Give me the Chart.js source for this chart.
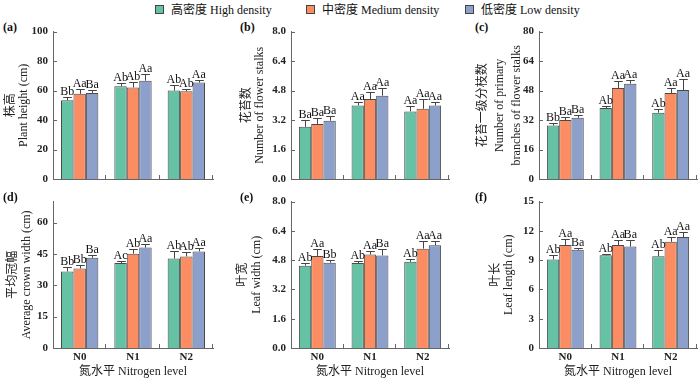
<!DOCTYPE html>
<html>
<head>
<meta charset="utf-8">
<script src="https://cdn.jsdelivr.net/npm/chart.js@4.4.1/dist/chart.umd.min.js"></script>
<style>
  html, body { margin: 0; padding: 0; background: #fff; }
  body { width: 700px; height: 385px; position: relative; overflow: hidden;
         font-family: 'Liberation Serif', 'Times New Roman', 'Noto Sans CJK SC', serif; color: #111; }
  canvas { position: absolute; }
  .tag { position: absolute; font-size: 12px; font-weight: bold; line-height: 14px; }
  .key { position: absolute; top: 3px; font-size: 12px; line-height: 14px; white-space: nowrap; }
  .key i { display: inline-block; width: 7px; height: 7px; border: 1px solid #444;
           margin-right: 7px; vertical-align: 0px; }
</style>
</head>
<body>
<script>
// Shared categories and series
const groups = ['N0', 'N1', 'N2'];
const seriesNames = ['高密度 High density', '中密度 Medium density', '低密度 Low density'];
const seriesColors = ['#66c2a5', '#fc8d62', '#8da0cb'];

// Each table: rows = high, medium, low density; columns = N0, N1, N2
// (a) plant height
const heightMean = [[53.4, 63.0, 60.0], [57.8, 62.1, 59.5], [58.4, 66.7, 65.4]];
const heightErr  = [[2.2, 1.8, 3.5], [3.2, 3.5, 1.8], [1.8, 4.2, 1.8]];
const heightSig  = [['Bb', 'Ab', 'Ab'], ['Aa', 'Ab', 'Ab'], ['Ba', 'Aa', 'Aa']];

// (b) number of flower stalks
const stalkMean = [[2.83, 3.99, 3.67], [2.99, 4.34, 3.81], [3.16, 4.52, 3.99]];
const stalkErr  = [[0.37, 0.21, 0.27], [0.30, 0.39, 0.53], [0.25, 0.44, 0.21]];
const stalkSig  = [['Ba', 'Aa', 'Aa'], ['Ba', 'Aa', 'Aa'], ['Ba', 'Aa', 'Aa']];

// (c) primary branches of flower stalks
const branchMean = [[29.0, 38.5, 36.0], [32.0, 49.4, 46.7], [33.2, 51.7, 48.3]];
const branchErr  = [[1.6, 1.0, 1.8], [1.4, 3.7, 2.7], [1.4, 1.9, 5.8]];
const branchSig  = [['Bb', 'Ab', 'Ab'], ['Ba', 'Aa', 'Aa'], ['Ba', 'Aa', 'Aa']];

// (d) average crown width
const crownMean = [[36.6, 40.6, 42.8], [38.0, 45.1, 43.8], [43.1, 48.0, 46.2]];
const crownErr  = [[1.9, 0.9, 3.4], [1.7, 2.1, 1.9], [1.2, 1.5, 1.8]];
const crownSig  = [['Bb', 'Ac', 'Ab'], ['Bb', 'Ab', 'Ab'], ['Ba', 'Aa', 'Aa']];

// (e) leaf width
const widthMean = [[4.50, 4.64, 4.71], [5.03, 5.11, 5.43], [4.66, 5.06, 5.61]];
const widthErr  = [[0.14, 0.11, 0.18], [0.37, 0.20, 0.42], [0.17, 0.34, 0.24]];
const widthSig  = [['Ab', 'Ab', 'Ab'], ['Aa', 'Aa', 'Aa'], ['Bb', 'Ba', 'Aa']];

// (f) leaf length
const lengthMean = [[9.07, 9.50, 9.40], [10.55, 10.55, 10.88], [10.06, 10.39, 11.37]];
const lengthErr  = [[0.43, 0.16, 0.69], [0.59, 0.50, 0.46], [0.23, 0.66, 0.50]];
const lengthSig  = [['Ab', 'Ab', 'Ab'], ['Aa', 'Aa', 'Aa'], ['Ba', 'Ba', 'Aa']];

const FONT = "'Liberation Serif', 'Times New Roman', 'Noto Sans CJK SC', serif";
const INK = '#222';
const AXIS = '#666';

const panels = [
  { tag: '(a)', mean: heightMean, err: heightErr, sig: heightSig, max: 100, step: 20, dec: 0,
    title: ['株高', 'Plant height (cm)'], left: 0, yw: 53, w: 220, pr: 7, tpad: 5, lh: 1.03, row: 0 },
  { tag: '(b)', mean: stalkMean, err: stalkErr, sig: stalkSig, max: 8, step: 1.6, dec: 1,
    title: ['花苔数', 'Number of flower stalks'], left: 230, yw: 61, w: 226, pr: 7, tpad: 10, lh: 1.08, row: 0 },
  { tag: '(c)', mean: branchMean, err: branchErr, sig: branchSig, max: 80, step: 16, dec: 0,
    title: ['花苔一级分枝数', 'Number of primary', 'branches of flower stalks'], left: 460, yw: 79, w: 240, pr: 3, tpad: 14, lh: 1.43, row: 0 },
  { tag: '(d)', mean: crownMean, err: crownErr, sig: crownSig, max: 70, step: 15, dec: 0,
    title: ['平均冠幅', 'Average crown width (cm)'], left: 0, yw: 53, w: 220, pr: 7, tpad: 6, lh: 1.17, row: 1 },
  { tag: '(e)', mean: widthMean, err: widthErr, sig: widthSig, max: 8, step: 1.6, dec: 1,
    title: ['叶宽', 'Leaf width (cm)'], left: 230, yw: 61, w: 226, pr: 7, tpad: 6, lh: 1.17, row: 1 },
  { tag: '(f)', mean: lengthMean, err: lengthErr, sig: lengthSig, max: 15, step: 3, dec: 0,
    title: ['叶长', 'Leaf length (cm)'], left: 460, yw: 79, w: 240, pr: 3, tpad: 29, lh: 1.08, row: 1 }
];

// Upper error bars, significance letters and inward tick marks
const errorBars = {
  id: 'errorBars',
  afterDatasetsDraw(chart, args, opts) {
    const { ctx } = chart;
    const ys = chart.scales.y;
    ctx.save();
    ctx.strokeStyle = '#444';
    ctx.lineWidth = 1;
    ctx.fillStyle = '#111';
    ctx.font = '12px ' + FONT;
    ctx.textAlign = 'center';
    ctx.textBaseline = 'alphabetic';
    chart.data.datasets.forEach((ds, di) => {
      chart.getDatasetMeta(di).data.forEach((bar, i) => {
        const x = Math.round(bar.x) + 0.5;
        const top = Math.round(ys.getPixelForValue(ds.data[i] + opts.err[di][i])) + 0.5;
        const half = bar.width * 0.35;
        ctx.beginPath();
        ctx.moveTo(x, bar.y);
        ctx.lineTo(x, top);
        ctx.moveTo(x - half, top);
        ctx.lineTo(x + half, top);
        ctx.stroke();
        ctx.fillText(opts.sig[di][i], bar.x, top - 3);
      });
    });
    ctx.restore();
  },
  afterDraw(chart) {
    const { ctx, chartArea } = chart;
    const xs = chart.scales.x, ys = chart.scales.y;
    ctx.save();
    ctx.strokeStyle = AXIS;
    ctx.lineWidth = 1;
    ctx.beginPath();
    ys.ticks.forEach(t => {
      const y = Math.round(ys.getPixelForValue(t.value)) + 0.5;
      ctx.moveTo(chartArea.left, y);
      ctx.lineTo(chartArea.left + 4, y);
    });
    for (let i = 1; i <= groups.length; i++) {
      const x = Math.round(xs.getPixelForValue(i - 0.5)) - 0.5;
      ctx.moveTo(x, chartArea.bottom);
      ctx.lineTo(x, chartArea.bottom - 4);
    }
    ctx.stroke();
    ctx.restore();
  }
};

// Legend
seriesNames.forEach((name, k) => {
  const d = document.createElement('div');
  d.className = 'key';
  d.style.left = [155, 306, 465][k] + 'px';
  d.innerHTML = '<i style="background:' + seriesColors[k] + '"></i>' + name;
  document.body.appendChild(d);
});

panels.forEach(p => {
  const top = p.row === 0 ? 20 : 190;
  const h = p.row === 0 ? 180 : 195;
  const xh = p.row === 0 ? 21 : 37;

  const tag = document.createElement('div');
  tag.className = 'tag';
  tag.textContent = p.tag;
  tag.style.left = (p.left + [3, 10, 15][panels.indexOf(p) % 3]) + 'px';
  tag.style.top = (top + 0) + 'px';
  document.body.appendChild(tag);

  const cv = document.createElement('canvas');
  cv.width = p.w;
  cv.height = h;
  cv.style.left = p.left + 'px';
  cv.style.top = top + 'px';
  document.body.appendChild(cv);

  new Chart(cv.getContext('2d'), {
    type: 'bar',
    data: {
      labels: groups,
      datasets: seriesNames.map((name, k) => ({
        label: name,
        data: p.mean[k],
        backgroundColor: seriesColors[k],
        borderColor: '#4a4a4a',
        borderWidth: 1,
        categoryPercentage: 0.7,
        barPercentage: 1.0
      }))
    },
    options: {
      responsive: false,
      animation: false,
      devicePixelRatio: 1,
      layout: { padding: { top: 7, right: p.pr, left: 0, bottom: 0 } },
      plugins: {
        legend: { display: false },
        tooltip: { enabled: false },
        errorBars: { err: p.err, sig: p.sig }
      },
      scales: {
        x: {
          grid: { display: false, drawTicks: false },
          border: { display: true, color: AXIS, width: 1 },
          ticks: { display: p.row === 1, color: INK, padding: 3,
                   font: { family: FONT, size: 11, weight: 'bold' } },
          title: { display: p.row === 1, text: '氮水平 Nitrogen level', color: INK,
                   font: { family: FONT, size: 12 }, padding: { top: 0, bottom: 6 } },
          afterFit: s => { s.height = xh; }
        },
        y: {
          min: 0,
          max: p.max,
          grid: { display: false, drawTicks: false },
          border: { display: true, color: AXIS, width: 1 },
          ticks: { stepSize: p.step, includeBounds: false, color: INK, padding: 5,
                   font: { family: FONT, size: 11, weight: 'bold' },
                   callback: v => Number(v).toFixed(p.dec) },
          title: { display: true, text: p.title, color: INK,
                   font: { family: FONT, size: 12, lineHeight: p.lh },
                   padding: { top: p.tpad, bottom: 0 } },
          afterFit: s => { s.width = p.yw; }
        }
      }
    },
    plugins: [errorBars]
  });
});
</script>
</body>
</html>
